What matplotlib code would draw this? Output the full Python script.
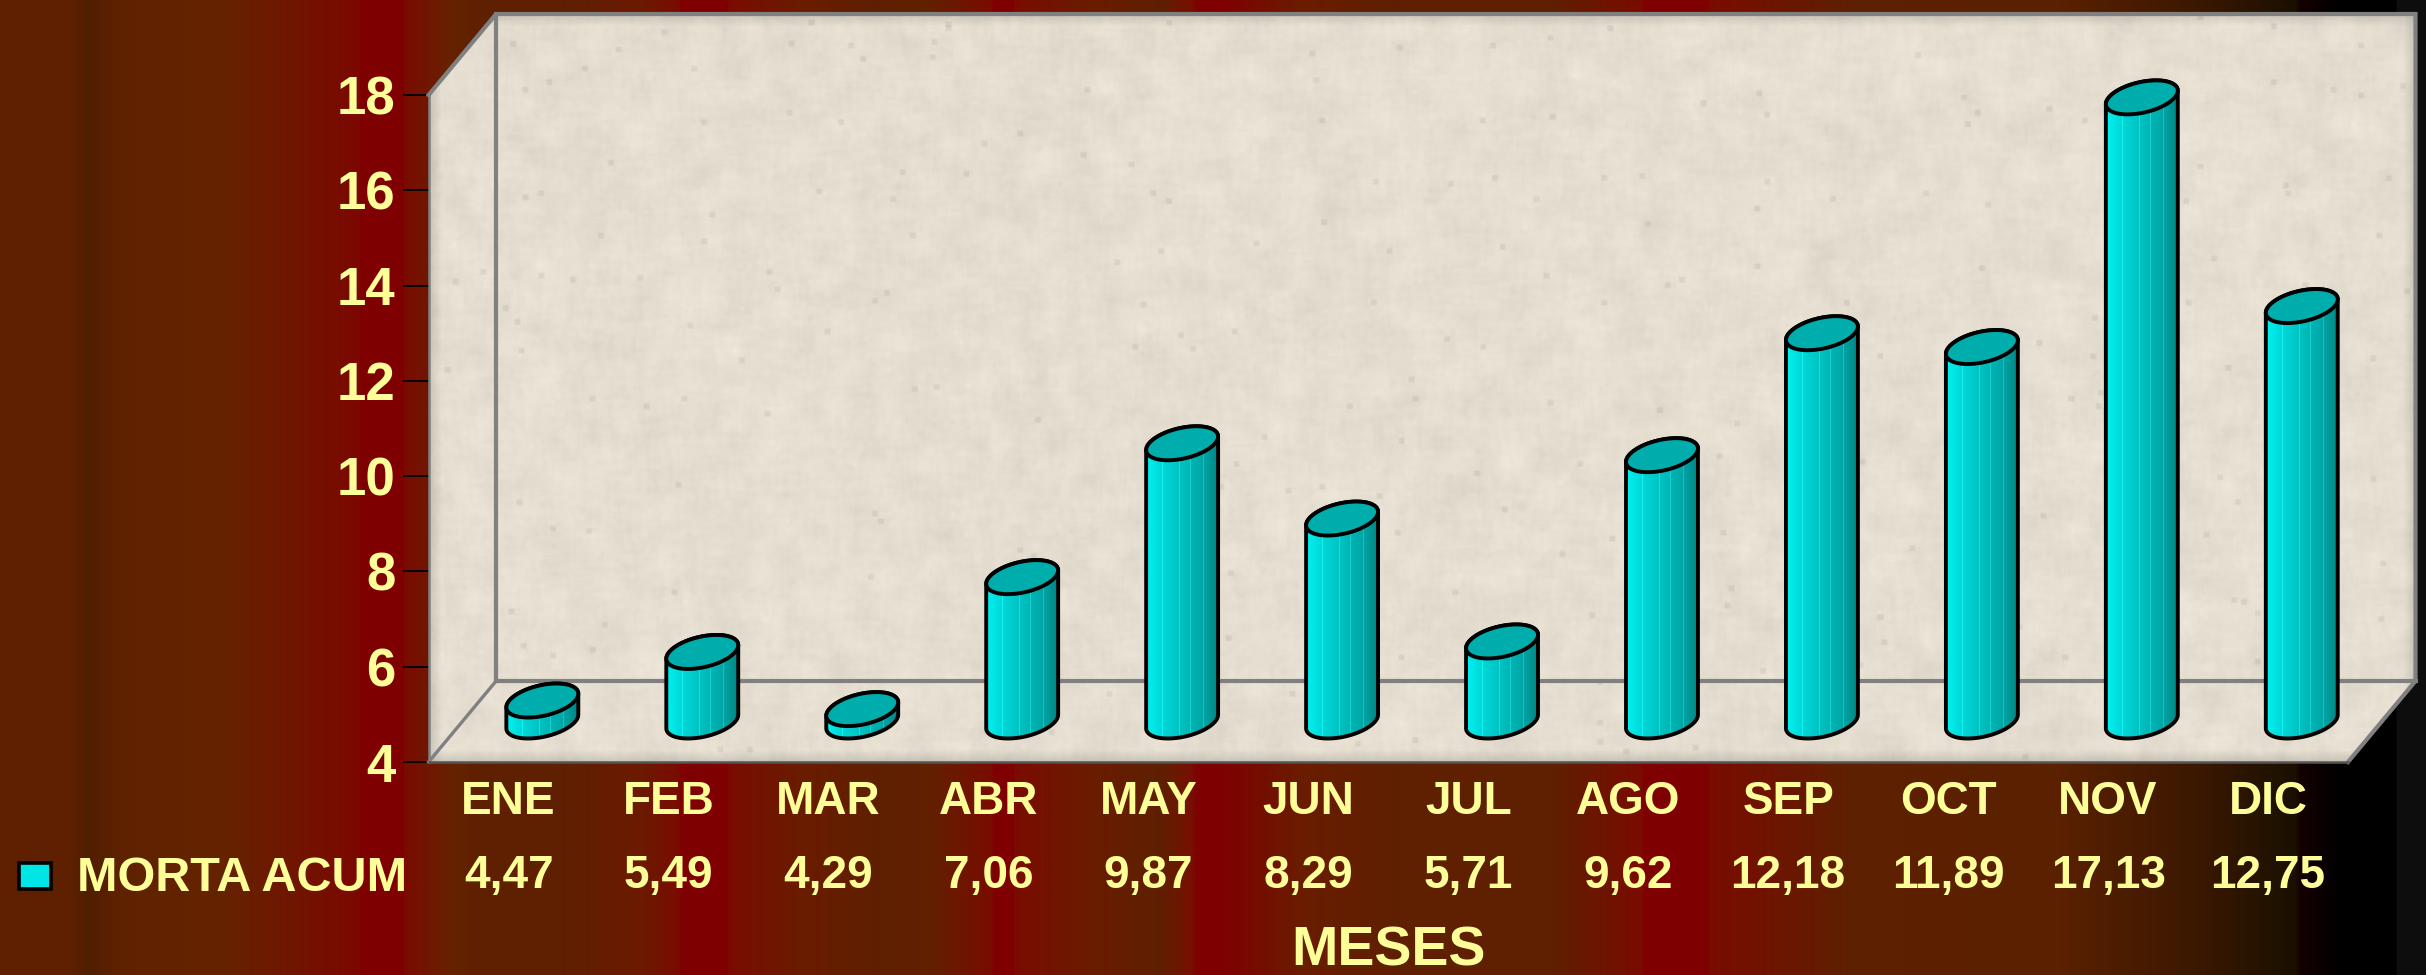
import numpy as np
import matplotlib
matplotlib.use("Agg")
import matplotlib.pyplot as plt
from matplotlib.colors import LinearSegmentedColormap, to_rgb
from matplotlib.path import Path
from matplotlib.patches import Polygon, Rectangle

plt.rcParams['font.family'] = ['Liberation Sans', 'DejaVu Sans']
plt.rcParams['font.weight'] = 'bold'

meses = ["ENE", "FEB", "MAR", "ABR", "MAY", "JUN", "JUL", "AGO", "SEP", "OCT", "NOV", "DIC"]
morta = [4.47, 5.49, 4.29, 7.06, 9.87, 8.29, 5.71, 9.62, 12.18, 11.89, 17.13, 12.75]
etiquetas = ["4,47", "5,49", "4,29", "7,06", "9,87", "8,29", "5,71", "9,62", "12,18", "11,89", "17,13", "12,75"]
yticks = [4, 6, 8, 10, 12, 14, 16, 18]
serie = "MORTA ACUM"
eje_x = "MESES"

W, H = 2426, 975
amarillo = "#FFFF99"
gris = "#808080"

# vertical bands of the slide background (pixel column, colour)
bandas = [(0, "#5e2000"), (70, "#5e2000"), (88, "#4f1f00"), (120, "#5f2200"), (230, "#662200"),
          (358, "#7c0800"), (360, "#7f0000"), (403, "#7f0000"), (405, "#7a0c00"), (450, "#662200"),
          (480, "#5e2000"), (560, "#5e2000"), (640, "#6c1a00"), (678, "#7a0c00"), (680, "#7f0000"),
          (727, "#7f0000"), (729, "#7a0c00"), (800, "#6a1c00"), (880, "#5e2000"), (930, "#622000"),
          (991, "#7a0c00"), (993, "#7f0000"), (1013, "#7f0000"), (1015, "#7a0c00"), (1090, "#6a1c00"),
          (1160, "#5e2000"), (1190, "#761000"), (1198, "#7f0000"), (1220, "#7f0000"), (1300, "#6a1c00"),
          (1400, "#5e2000"), (1550, "#5e2000"), (1640, "#7a0c00"), (1644, "#7f0000"), (1706, "#7f0000"),
          (1710, "#7a0c00"), (1850, "#5e2000"), (2060, "#5a2000"), (2200, "#3a1800"), (2295, "#1a1000"),
          (2300, "#140000"), (2340, "#000000"), (2395, "#000000"), (2397, "#0d0d0d"), (2426, "#0d0d0d")]

fig = plt.figure(figsize=(W / 100, H / 100), dpi=100)

fondo = fig.add_axes([0, 0, 1, 1], zorder=0)
fondo.axis("off")
cols = np.arange(W)
xs = [b[0] for b in bandas]
rgb = np.array([to_rgb(b[1]) for b in bandas])
grad = np.stack([np.interp(cols, xs, rgb[:, k]) for k in range(3)], axis=1)
fondo.imshow(grad[np.newaxis, :, :], aspect="auto", interpolation="nearest", extent=(0, W, H, 0))
fondo.set_xlim(0, W)
fondo.set_ylim(H, 0)

# front plane of the 3D box
x0, x1, y_base, y_top = 428.6, 2348, 762, 95
ax = fig.add_axes([x0 / W, 1 - y_base / H, (x1 - x0) / W, (y_base - y_top) / H], zorder=1)
ax.patch.set_visible(False)
for s in ax.spines.values():
    s.set_visible(False)

px_x = (x1 - x0) / 12
px_y = (y_base - y_top) / 14
prof_x = 67.5 / px_x
prof_y = 81 / px_y


def ruido(ny, nx, semilla):
    jj, ii = np.mgrid[0:ny, 0:nx]
    v = np.sin(ii * 12.9898 + jj * 78.233 + semilla) * 43758.5453
    return v - np.floor(v)


def suaviza(a, n):
    k = np.ones(n) / n
    a = np.apply_along_axis(lambda r: np.convolve(r, k, mode="same"), 1, a)
    return np.apply_along_axis(lambda r: np.convolve(r, k, mode="same"), 0, a)


def recorta(im, camino):
    im.set_clip_box(fig.bbox)
    im.set_clip_path(camino, ax.transData)


# paper-like texture for walls and floor
ny, nx = 390, 1000
fino = suaviza(ruido(ny, nx, 1.3), 3) - 0.5
medio = suaviza(ruido(ny, nx, 4.1), 13) - 0.5
motas = suaviza((ruido(ny, nx, 7.7) > 0.9993).astype(float), 3)
luz = 1 + 0.05 * fino + 0.50 * medio - 0.55 * motas
base = np.array(to_rgb("#E5DED1"))
textura = np.clip(luz[:, :, np.newaxis] * base, 0, 1)

xmin, xmax = 0, 12 + prof_x
ymin, ymax = 4, 18 + prof_y
pared = [(prof_x, 4 + prof_y), (xmax, 4 + prof_y), (xmax, ymax), (prof_x, ymax)]
izq = [(0, 4), (prof_x, 4 + prof_y), (prof_x, ymax), (0, 18)]
suelo = [(0, 4), (12, 4), (xmax, 4 + prof_y), (prof_x, 4 + prof_y)]
verts, codes = [], []
for poly in (pared, izq, suelo):
    verts += poly + [poly[0]]
    codes += [Path.MOVETO] + [Path.LINETO] * (len(poly) - 1) + [Path.CLOSEPOLY]
im = ax.imshow(textura, extent=(xmin, xmax, ymin, ymax), aspect="auto", interpolation="bilinear", zorder=1)
recorta(im, Path(verts, codes))

# box edges
linea = dict(color=gris, clip_on=False, zorder=2, solid_joinstyle="miter")
ax.plot([0, prof_x, xmax, xmax, 12], [18, ymax, ymax, 4 + prof_y, 4], lw=3.0, **linea)
ax.plot([0, 0], [18, 4], lw=1.8, **linea)
ax.plot([prof_x, prof_x], [ymax, 4 + prof_y], lw=3.0, **linea)
ax.plot([prof_x, xmax], [4 + prof_y, 4 + prof_y], lw=3.0, **linea)
ax.plot([0, prof_x], [4, 4 + prof_y], lw=2.4, **linea)
ax.plot([0, 12], [4, 4], color="#555555", lw=1.8, clip_on=False, zorder=2)

# cylinders
cmap_cil = LinearSegmentedColormap.from_list(
    "cil", [(0, "#00F2F2"), (0.2, "#00DADA"), (0.5, "#00C0C0"), (0.8, "#00A6A6"), (1, "#008585")])
tira = cmap_cil(np.linspace(0, 1, 200))[:, :3]
for f in [0.13, 0.23, 0.47, 0.52, 0.57, 0.62, 0.68, 0.74, 0.8, 0.85, 0.89, 0.93, 0.96]:
    c = int(f * 199)
    tira[c] = np.clip(tira[c] + 0.10, 0, 1)

r_x = 33 / px_x
sesgo = 14.3 / px_x
r_y = 17 / px_y
borde = 2.8
ancho = np.hypot(r_x, sesgo)
t_tan = np.arctan2(sesgo, r_x)


def elipse(cx, cy, t):
    return cx + r_x * np.cos(t) + sesgo * np.sin(t), cy + r_y * np.sin(t)


for i, v in enumerate(morta):
    cx = i + 0.5 + prof_x / 2
    cyb = 4 + prof_y / 2
    cyt = v + prof_y / 2 - 0.03
    # silhouette: lower half of base, then upper half of top
    tb = np.linspace(t_tan - np.pi, t_tan, 80)
    ttop = np.linspace(t_tan, t_tan + np.pi, 80)
    xb, yb = elipse(cx, cyb, tb)
    xt, yt = elipse(cx, cyt, ttop)
    sil = np.vstack([np.column_stack([xb, yb]), np.column_stack([xt, yt])])
    cuerpo = ax.imshow(tira[np.newaxis, :, :], aspect="auto", interpolation="nearest",
                       extent=(cx - ancho, cx + ancho, 4, v + 2), zorder=3 + i)
    recorta(cuerpo, Path(sil))
    ax.add_patch(Polygon(sil, closed=True, fill=False, edgecolor="black", lw=borde,
                         clip_on=False, zorder=3 + i))
    tt = np.linspace(0, 2 * np.pi, 160)
    xe, ye = elipse(cx, cyt, tt)
    ax.add_patch(Polygon(np.column_stack([xe, ye]), closed=True, facecolor="#00ADAD", edgecolor="black",
                         lw=borde, clip_on=False, zorder=3 + i))

ax.set_xlim(0, 12)
ax.set_ylim(4, 18)
ax.set_yticks(yticks)
ax.set_yticklabels([str(t) for t in yticks])
ax.tick_params(axis="y", length=18.5, width=1.3, color="black", pad=5.5, labelsize=38, labelcolor=amarillo)
ax.set_xticks(np.arange(12) + 0.5)
ax.set_xticklabels(meses)
ax.tick_params(axis="x", length=0, pad=13, labelsize=33, labelcolor=amarillo)

# data table row under the axis
y_valores = 4 - (888 - y_base) / px_y
for i, et in enumerate(etiquetas):
    ax.text(i + 0.5, y_valores, et, color=amarillo, fontsize=33, ha="center", va="baseline", clip_on=False)

fondo.add_patch(Rectangle((19, 863), 32, 26, facecolor="#00E5E5", edgecolor="black", lw=2.6))
fondo.text(77, 891, serie, color=amarillo, fontsize=35, ha="left", va="baseline")
fondo.text(1388, 966, eje_x, color=amarillo, fontsize=40, ha="center", va="baseline")

fig.savefig("out.png", dpi=100)
